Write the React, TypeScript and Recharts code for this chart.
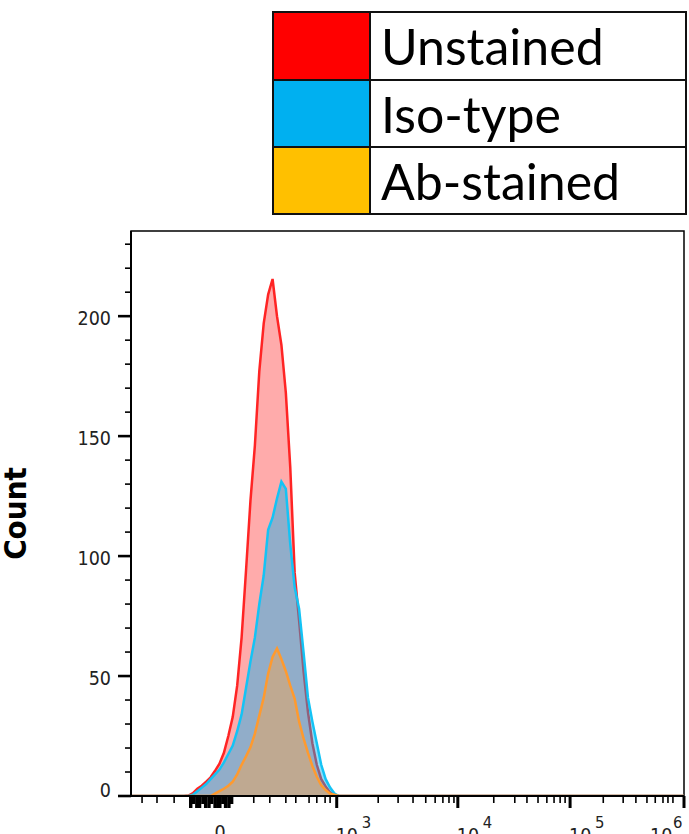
import { Area, AreaChart, Legend, ReferenceArea, XAxis, YAxis } from 'recharts'

// x positions are display channels (0..1000 across the logicle axis)
const CHANNELS = [
  0, 96, 104, 112, 120, 128, 136, 144, 152, 160, 168, 176, 184, 192, 200, 208,
  216, 224, 232, 240, 248, 256, 264, 272, 280, 288, 296, 304, 312, 320, 328,
  336, 344, 352, 360, 368, 376, 384, 1000,
]

const UNSTAINED = [
  0, 0, 0.2, 1.2, 3, 4.3, 6, 7.8, 10.5, 13.5, 18, 25, 33, 46, 66, 94, 123, 146,
  177, 197, 209, 215.5, 200, 188, 168, 137, 93, 73, 52, 35, 22, 13, 7, 4, 1.5,
  0.5, 0, 0, 0,
]

const ISO_TYPE = [
  0, 0, 0, 0.5, 2, 3.5, 5, 7, 9, 11, 14, 17.5, 21, 27, 34, 45, 56, 66, 80, 92,
  111, 116, 124, 131, 128, 105, 87, 78, 60, 41, 31, 22, 13, 7, 3.5, 1, 0, 0, 0,
]

const AB_STAINED = [
  0, 0, 0, 0, 0, 0, 0, 0, 1, 2, 3, 4.3, 6, 9, 13, 16.5, 20.3, 26, 33.5, 41, 51,
  58, 61.5, 57, 52, 46, 40.5, 31, 24, 18, 12.5, 8, 4.5, 2.5, 1, 0.5, 0, 0, 0,
]

// axis ticks, in display channels
const X_MAJOR = [161, 372, 591, 794, 1000]
const X_MAJOR_LABELS = ['0', '10^3', '10^4', '10^5', '10^6']
const X_MINOR = [
  20, 47, 78, 222, 251, 280, 298, 322, 336, 351, 360, 447, 483, 510, 533, 550,
  564, 575, 584, 656, 694, 716, 736, 752, 765, 776, 785, 854, 890, 913, 933,
  948, 962, 971, 980,
]
const X_DENSE = [108, 113, 119, 124, 130, 135, 141, 146, 152, 157, 166, 171, 177, 182]

const Y_TICKS = [
  0, 10, 20, 30, 40, 50, 60, 70, 80, 90, 100, 110, 120, 130, 140, 150, 160,
  170, 180, 190, 200, 210, 220, 230,
]
const Y_LABELLED = [0, 50, 100, 150, 200]
const Y_MAX = 235.5

const SERIES = [
  { key: 'unstained', name: 'Unstained', swatch: '#FF0000', stroke: '#FF2424', fill: '#FF0000', opacity: 0.33 },
  { key: 'iso', name: 'Iso-type', swatch: '#00B0F0', stroke: '#14C3F5', fill: '#00B0F0', opacity: 0.43 },
  { key: 'ab', name: 'Ab-stained', swatch: '#FFC000', stroke: '#FF9A2E', fill: '#FFA546', opacity: 0.42 },
]

const data = CHANNELS.map((ch, i) => ({
  ch,
  unstained: UNSTAINED[i],
  iso: ISO_TYPE[i],
  ab: AB_STAINED[i],
}))

const X_TICKS = [...X_MINOR, ...X_DENSE, ...X_MAJOR].sort((a, b) => a - b)

const AXIS_FONT = '"DejaVu Sans Condensed", "DejaVu Sans", sans-serif'

function XTick(props: { x?: number; y?: number; payload?: { value: number } }) {
  const { x = 0, y = 0, payload } = props
  const value = payload?.value ?? 0
  const majorIdx = X_MAJOR.indexOf(value)
  if (majorIdx >= 0) {
    const [base, exp] = X_MAJOR_LABELS[majorIdx].split('^')
    const isLast = majorIdx === X_MAJOR.length - 1
    return (
      <g>
        <line x1={x} y1={y} x2={x} y2={y + 12} stroke="#000" strokeWidth={3} />
        {exp == null ? (
          <text x={x} y={y + 43} textAnchor="middle" fontFamily={AXIS_FONT} fontSize={19.5} fill="#222">
            {base}
          </text>
        ) : (
          <>
            <text x={isLast ? x - 34 : x - 1} y={y + 46} fontFamily={AXIS_FONT} fontSize={19.5} fill="#222">
              {base}
            </text>
            <text x={isLast ? x - 11 : x + 25} y={y + 32} fontFamily={AXIS_FONT} fontSize={16.5} fill="#222">
              {exp}
            </text>
          </>
        )}
      </g>
    )
  }
  const denseIdx = X_DENSE.indexOf(value)
  if (denseIdx >= 0) {
    return (
      <line x1={x} y1={y} x2={x} y2={y + (denseIdx % 3 === 1 ? 8 : 12)} stroke="#000" strokeWidth={3.4} />
    )
  }
  return <line x1={x} y1={y} x2={x} y2={y + 7} stroke="#000" strokeWidth={1.6} />
}

function YTick(props: { x?: number; y?: number; payload?: { value: number } }) {
  const { x = 0, y = 0, payload } = props
  const value = payload?.value ?? 0
  const labelled = Y_LABELLED.includes(value)
  return (
    <g>
      <line
        x1={x - (labelled ? 13 : 6)}
        y1={y}
        x2={x}
        y2={y}
        stroke="#000"
        strokeWidth={labelled ? 2.6 : 1.6}
      />
      {labelled && (
        <text
          x={x - 20}
          y={value === 0 ? y + 1 : y + 9}
          textAnchor="end"
          fontFamily={AXIS_FONT}
          fontSize={19.5}
          fill="#222"
        >
          {value}
        </text>
      )}
    </g>
  )
}

function CountLabel(props: { viewBox?: { x?: number; y?: number; width?: number; height?: number } }) {
  const vb = props.viewBox ?? {}
  const cx = (vb.x ?? 0) + 15
  const cy = (vb.y ?? 0) + (vb.height ?? 0) / 2
  return (
    <text
      x={cx}
      y={cy}
      transform={`rotate(-90 ${cx} ${cy})`}
      textAnchor="middle"
      dominantBaseline="central"
      fontFamily={AXIS_FONT}
      fontWeight="bold"
      fontSize={31}
      fill="#000"
    >
      Count
    </text>
  )
}

const ROW_HEIGHTS = [68, 67, 67]

function LegendTable() {
  return (
    <table style={{ borderCollapse: 'collapse', width: 415, tableLayout: 'fixed' }}>
      <tbody>
        {SERIES.map((s, i) => (
          <tr key={s.key} style={{ height: ROW_HEIGHTS[i] }}>
            <td style={{ width: 95, background: s.swatch, border: '2px solid #111', padding: 0 }} />
            <td
              style={{
                border: '2px solid #111',
                padding: '0 0 0 10px',
                fontFamily: 'Lato, "Open Sans", sans-serif',
                fontSize: 50,
                color: '#000',
                whiteSpace: 'nowrap',
              }}
            >
              {s.name}
            </td>
          </tr>
        ))}
      </tbody>
    </table>
  )
}

export default function App() {
  return (
    <>
      <style>{'html, body { overflow: hidden; margin: 0; }'}</style>
      <AreaChart
        width={689}
        height={850}
        data={data}
        margin={{ top: 231, right: 5, bottom: 14, left: 0 }}
      >
        <ReferenceArea x1={0} x2={1000} y1={0} y2={Y_MAX} fill="none" stroke="#000" strokeWidth={1.5} />
        <XAxis
          dataKey="ch"
          type="number"
          domain={[0, 1000]}
          ticks={X_TICKS}
          interval={0}
          tick={(p: any) => <XTick {...p} />}
          tickLine={false}
          tickSize={0}
          tickMargin={0}
          height={40}
          axisLine={{ stroke: '#000', strokeWidth: 2 }}
          allowDataOverflow
        />
        <YAxis
          type="number"
          domain={[0, Y_MAX]}
          ticks={Y_TICKS}
          interval={0}
          tick={(p: any) => <YTick {...p} />}
          tickLine={false}
          tickSize={0}
          tickMargin={0}
          width={131}
          axisLine={{ stroke: '#000', strokeWidth: 2 }}
          label={{ content: (p: any) => <CountLabel {...p} /> }}
          allowDataOverflow
        />
        <Legend
          verticalAlign="middle"
          align="center"
          layout="horizontal"
          wrapperStyle={{ top: 11, left: 272, width: 415 }}
          content={() => <LegendTable />}
        />
        {SERIES.map((s) => (
          <Area
            key={s.key}
            type="linear"
            dataKey={s.key}
            name={s.name}
            stroke={s.stroke}
            strokeWidth={2.5}
            fill={s.fill}
            fillOpacity={s.opacity}
            dot={false}
            activeDot={false}
            isAnimationActive={false}
          />
        ))}
      </AreaChart>
    </>
  )
}
